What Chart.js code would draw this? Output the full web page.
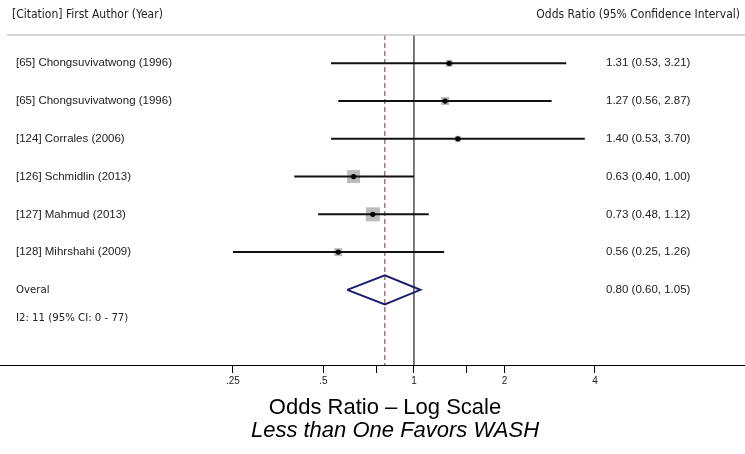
<!DOCTYPE html>
<html>
<head>
<meta charset="utf-8">
<script src="https://cdn.jsdelivr.net/npm/chart.js@4"></script>
<style>
  html, body { margin: 0; padding: 0; background: #fff; }
  #wrap { width: 745px; height: 454px; position: relative; }
</style>
</head>
<body>
<div id="wrap"><canvas id="forest"></canvas></div>
<script>
const studies = [
  "[65] Chongsuvivatwong (1996)",
  "[65] Chongsuvivatwong (1996)",
  "[124] Corrales (2006)",
  "[126] Schmidlin (2013)",
  "[127] Mahmud (2013)",
  "[128] Mihrshahi (2009)"
];
const oddsRatio = [1.31, 1.27, 1.40, 0.63, 0.73, 0.56];
const ciLow     = [0.53, 0.56, 0.53, 0.40, 0.48, 0.25];
const ciHigh    = [3.21, 2.87, 3.70, 1.00, 1.12, 1.26];
const weights   = [8.5, 11.1, 6.2, 29.2, 33.9, 11.1];   // % weight (box area)

const overallLabel = "Overal";
const overallOR = 0.80, overallLow = 0.60, overallHigh = 1.05;
const hetLabel = "I2: 11 (95% CI: 0 - 77)";

const tickValues = [0.25, 0.5, 0.75, 1, 1.5, 2, 4];
const tickLabels = [".25", ".5", "", "1", "", "2", "4"];

const Y_MIN = -0.75, Y_MAX = 7.99;
const overallRow = studies.length;
const fmt = (v) => v.toFixed(2);
const NARROW = "'DejaVu Sans Condensed', 'Liberation Sans Narrow', Roboto";

// CI whiskers, one dataset per study
const ciSets = studies.map((s, i) => ({
  type: "scatter",
  showLine: true,
  data: [{ x: ciLow[i], y: i }, { x: ciHigh[i], y: i }],
  borderColor: "#111",
  borderWidth: 2,
  pointRadius: 0,
  order: 2
}));

const boxes = {
  type: "scatter",
  data: oddsRatio.map((v, i) => ({ x: v, y: i })),
  pointStyle: "rect",
  pointRadius: weights.map(w => 2.4 * Math.sqrt(w) / Math.SQRT2),
  backgroundColor: "#bcbcbc",
  borderWidth: 0,
  order: 3
};

const dots = {
  type: "scatter",
  data: oddsRatio.map((v, i) => ({ x: v, y: i })),
  pointRadius: 2.6,
  backgroundColor: "#000",
  borderWidth: 0,
  order: 0
};

const dh = 0.385;
const diamond = {
  type: "scatter",
  showLine: true,
  data: [
    { x: overallLow, y: overallRow },
    { x: overallOR, y: overallRow - dh },
    { x: overallHigh, y: overallRow },
    { x: overallOR, y: overallRow + dh },
    { x: overallLow, y: overallRow }
  ],
  borderColor: "#1c1c6e",
  borderWidth: 2,
  pointRadius: 0,
  order: 1
};

const nullLine = {
  type: "scatter",
  showLine: true,
  data: [{ x: 1, y: Y_MIN }, { x: 1, y: Y_MAX }],
  borderColor: "#333",
  borderWidth: 1.3,
  pointRadius: 0,
  order: 5
};

const overallLine = {
  type: "scatter",
  showLine: true,
  data: [{ x: overallOR, y: Y_MIN }, { x: overallOR, y: Y_MAX }],
  borderColor: "#9e4e5e",
  borderWidth: 1.2,
  borderDash: [5, 3],
  pointRadius: 0,
  order: 4
};

const textPlugin = {
  id: "forestText",
  afterDraw(chart) {
    const ctx = chart.ctx;
    const ys = chart.scales.y;
    const area = chart.chartArea;
    ctx.save();

    // header
    ctx.fillStyle = "#222";
    ctx.font = "12px " + NARROW;
    ctx.textBaseline = "middle";
    ctx.textAlign = "left";
    ctx.fillText("[Citation] First Author (Year)", 12, 15);
    ctx.textAlign = "right";
    ctx.fillText("Odds Ratio (95% Confidence Interval)", 740, 15);

    ctx.strokeStyle = "#c8c8c8";
    ctx.lineWidth = 1.5;
    ctx.beginPath();
    ctx.moveTo(7, area.top);
    ctx.lineTo(745, area.top);
    ctx.stroke();

    // rows
    ctx.font = "11.5px 'Liberation Sans'";
    studies.forEach((s, i) => {
      const y = ys.getPixelForValue(i);
      ctx.textAlign = "left";
      ctx.fillText(s, 16, y);
      ctx.fillText(`${fmt(oddsRatio[i])} (${fmt(ciLow[i])}, ${fmt(ciHigh[i])})`, 606, y);
    });
    const yo = ys.getPixelForValue(overallRow);
    ctx.fillText(`${fmt(overallOR)} (${fmt(overallLow)}, ${fmt(overallHigh)})`, 606, yo);

    ctx.font = "11.3px " + NARROW;
    ctx.fillText(overallLabel, 16, yo);
    ctx.fillText(hetLabel, 16, ys.getPixelForValue(overallRow + 0.745));

    // axis titles
    ctx.fillStyle = "#000";
    ctx.textAlign = "center";
    ctx.textBaseline = "alphabetic";
    ctx.font = "22px 'Liberation Sans'";
    ctx.fillText("Odds Ratio \u2013 Log Scale", 385, 414);
    ctx.font = "italic 22px 'Liberation Sans'";
    ctx.fillText("Less than One Favors WASH", 395, 437);
    ctx.restore();
  }
};

new Chart(document.getElementById("forest"), {
  type: "scatter",
  data: { datasets: [dots, diamond, ...ciSets, boxes, overallLine, nullLine] },
  options: {
    responsive: true,
    maintainAspectRatio: false,
    animation: false,
    layout: { autoPadding: false, padding: { top: 35, left: 0, right: 0, bottom: 0 } },
    plugins: { legend: { display: false }, tooltip: { enabled: false } },
    scales: {
      x: {
        type: "logarithmic",
        min: 0.042,
        max: 12.62,
        afterBuildTicks: (scale) => { scale.ticks = tickValues.map(v => ({ value: v })); },
        afterFit: (scale) => { scale.height = 89; },
        ticks: {
          autoSkip: false,
          maxRotation: 0,
          padding: 2,
          color: "#222",
          font: { size: 10, family: "'Liberation Sans'" },
          callback: (v) => tickLabels[tickValues.indexOf(v)] ?? ""
        },
        grid: { drawOnChartArea: false, drawTicks: true, tickLength: 8, color: "#000" },
        border: { color: "#000", width: 1 }
      },
      y: {
        type: "linear",
        reverse: true,
        min: Y_MIN,
        max: Y_MAX,
        display: false
      }
    }
  },
  plugins: [textPlugin]
});
</script>
</body>
</html>
